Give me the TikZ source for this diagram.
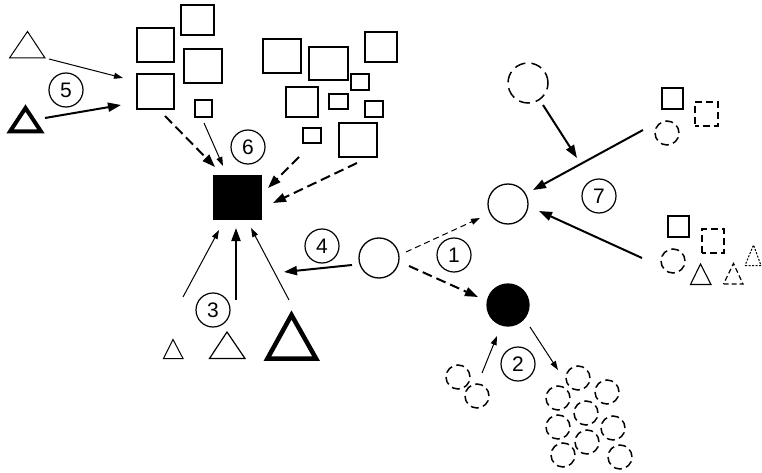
\documentclass[tikz,border=0pt]{standalone}
\usepackage{fontspec}
\setmainfont{Liberation Sans}
\usetikzlibrary{arrows.meta}
\tikzset{
  sq/.style={draw, line width=1.2pt, rectangle, inner sep=0pt, outer sep=0pt},
  dsq/.style={sq, line width=1.4pt, dash pattern=on 7pt off 4pt, dash phase=3pt},
  ring/.style={draw, line width=1.3pt, circle, inner sep=0pt, outer sep=0pt, minimum size=40pt},
  dring/.style={ring, minimum size=24pt, line width=1.5pt, dash pattern=on 8pt off 4.5pt},
  bigdring/.style={ring, line width=1.5pt, dash pattern=on 11pt off 6pt},
  numlab/.style={draw, line width=1.2pt, circle, inner sep=0pt, minimum size=34pt, font=\fontsize{21}{21}\selectfont},
  thinarr/.style={line width=1pt, -{Triangle[length=9pt,width=6pt]}},
  thickarr/.style={line width=2pt, -{Triangle[length=13pt,width=9pt]}},
  thickdash/.style={thickarr, dash pattern=on 10pt off 5pt},
  thindash/.style={thinarr, dash pattern=on 6pt off 4pt},
  tri/.style={draw, line width=1.1pt, line join=miter},
}
\begin{document}
\begin{tikzpicture}[x=1pt,y=-1pt]
\useasboundingbox (0,0) rectangle (762,473);

% left square group
\node[sq, minimum width=37pt, minimum height=34pt] (A) at (155.5,45) {};
\node[sq, minimum width=33pt, minimum height=30pt] (B) at (197.5,20) {};
\node[sq, minimum width=38pt, minimum height=34pt] (C) at (203,66) {};
\node[sq, minimum width=37pt, minimum height=35pt] (D) at (155.5,91.5) {};
\node[sq, minimum width=17pt, minimum height=17pt] (E) at (203.5,108.5) {};
% right square group
\node[sq, minimum width=38pt, minimum height=34pt] (F) at (282,56) {};
\node[sq, minimum width=39pt, minimum height=33pt] (G) at (328.5,63.5) {};
\node[sq, minimum width=32pt, minimum height=30pt] (H) at (302,102) {};
\node[sq, minimum width=18pt, minimum height=15pt] (I) at (312,135.5) {};
\node[sq, minimum width=32pt, minimum height=30pt] (J) at (381,47) {};
\node[sq, minimum width=18pt, minimum height=16pt] (K) at (360,82) {};
\node[sq, minimum width=19pt, minimum height=15pt] (L) at (338.5,101.5) {};
\node[sq, minimum width=18pt, minimum height=16pt] (M) at (374,109) {};
\node[sq, minimum width=38pt, minimum height=34pt] (N) at (358,140) {};
% black square
\node[rectangle, fill=black, inner sep=0pt, minimum width=49pt, minimum height=45pt] (blk) at (237.5,197.5) {};

% triangles left
\draw[tri, line width=1pt] (9.5,58) coordinate (tA) -- (45,58) -- (27.5,31.5) -- cycle;
\draw[tri, line width=4pt] (10,131.5) coordinate (tB) -- (41,131.5) -- (25.5,108) -- cycle;
\draw[tri, line width=1pt] (163.5,358.5) coordinate (tC) -- (183,358.5) -- (173,339.5) -- cycle;
\draw[tri, line width=1.2pt] (209.5,358.5) coordinate (tD) -- (245,358.5) -- (227,332) -- cycle;
\draw[tri, line width=4.5pt] (267.5,358.5) coordinate (tE) -- (316,358.5) -- (291.5,315) -- cycle;

% circles
\node[ring] (mid) at (379,258) {};
\node[ring] (up) at (508,204) {};
\node[ring, fill=black, minimum size=42pt] (blc) at (508,305) {};
\node[bigdring] (dtop) at (528,83) {};

% top right group
\node[sq, minimum width=21pt, minimum height=21pt] (sqTR) at (672.5,98.5) {};
\node[dsq, minimum width=23pt, minimum height=24pt] (dsqTR) at (706.5,114) {};
\node[dring] (dcTR) at (667,133) {};
% lower right group
\node[sq, minimum width=21pt, minimum height=21pt] (sqLR) at (678.5,226.5) {};
\node[dsq, minimum width=22pt, minimum height=24pt] (dsqLR) at (713,241) {};
\node[dring] (dcLR) at (673,261) {};
\draw[tri, line width=1.1pt] (690.5,284.5) coordinate (tF) -- (711,284.5) -- (700.5,264) -- cycle;
\draw[tri, line width=1.2pt, dash pattern=on 5pt off 3pt] (723.5,284) coordinate (tG) -- (743,284) -- (733.5,263.5) -- cycle;
\draw[tri, line width=1pt, dash pattern=on 2pt off 1.5pt] (745,265.5) coordinate (tH) -- (761,265.5) -- (753.5,245) -- cycle;

% dashed pair and cluster
\node[dring] (p1) at (458,377) {};
\node[dring] (p2) at (477,396) {};
\node[dring] (q1) at (578,378) {};
\node[dring] (q2) at (607,392) {};
\node[dring] (q3) at (558,398) {};
\node[dring] (q4) at (586,413) {};
\node[dring] (q5) at (558,427) {};
\node[dring] (q6) at (613,428) {};
\node[dring] (q7) at (587,442) {};
\node[dring] (q8) at (563,455) {};
\node[dring] (q9) at (620,457) {};

% number labels
\node[numlab] (n1) at (454,255) {1};
\node[numlab] (n2) at (518,364) {2};
\node[numlab] (n3) at (213,310) {3};
\node[numlab] (n4) at (322,246) {4};
\node[numlab] (n5) at (66,90) {5};
\node[numlab] (n6) at (248,147) {6};
\node[numlab] (n7) at (599,196) {7};

% arrow end points
\coordinate (a1s) at (49,59);   \coordinate (a1e) at (123,78);
\coordinate (a2s) at (45,118);  \coordinate (a2e) at (121,105);
\coordinate (a3s) at (165,116); \coordinate (a3e) at (215,167);
\coordinate (a4s) at (204,123); \coordinate (a4e) at (223,166);
\coordinate (a5s) at (299,157); \coordinate (a5e) at (268,188);
\coordinate (a6s) at (357,163); \coordinate (a6e) at (273,203);
\coordinate (a7s) at (183,297); \coordinate (a7e) at (219,230);
\coordinate (a8s) at (236,300); \coordinate (a8e) at (236,228);
\coordinate (a9s) at (289,300); \coordinate (a9e) at (251,228);
\coordinate (a10s) at (352,265); \coordinate (a10e) at (284,272);
\coordinate (a11s) at (406,252); \coordinate (a11e) at (480,218);
\coordinate (a12s) at (409,266); \coordinate (a12e) at (478,297);
\coordinate (a13s) at (543,105); \coordinate (a13e) at (577,158);
\coordinate (a14s) at (643,130); \coordinate (a14e) at (533,190);
\coordinate (a15s) at (642,258); \coordinate (a15e) at (539,211);
\coordinate (a16s) at (482,373); \coordinate (a16e) at (497,336);
\coordinate (a17s) at (530,327); \coordinate (a17e) at (558,370);

\draw[thinarr] (a1s) -- (a1e);
\draw[thickarr] (a2s) -- (a2e);
\draw[thickdash] (a3s) -- (a3e);
\draw[thinarr] (a4s) -- (a4e);
\draw[thickdash] (a5s) -- (a5e);
\draw[thickdash] (a6s) -- (a6e);
\draw[thinarr] (a7s) -- (a7e);
\draw[thickarr] (a8s) -- (a8e);
\draw[thinarr] (a9s) -- (a9e);
\draw[thickarr] (a10s) -- (a10e);
\draw[thindash] (a11s) -- (a11e);
\draw[thickdash] (a12s) -- (a12e);
\draw[thickarr] (a13s) -- (a13e);
\draw[thickarr] (a14s) -- (a14e);
\draw[thickarr] (a15s) -- (a15e);
\draw[thinarr] (a16s) -- (a16e);
\draw[thinarr] (a17s) -- (a17e);
\end{tikzpicture}
\end{document}
